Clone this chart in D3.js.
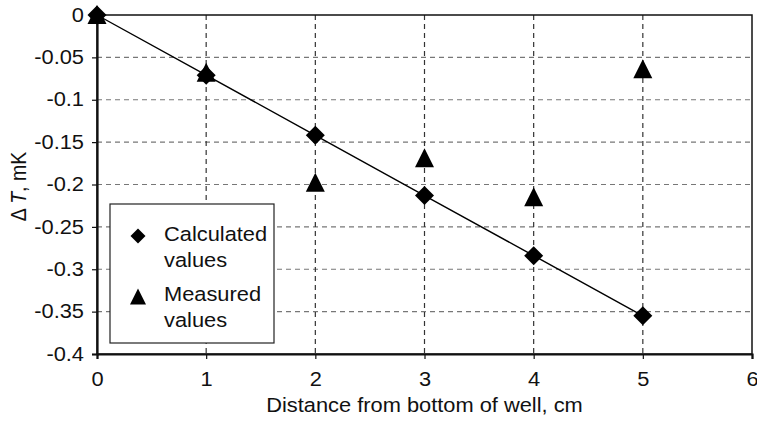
<html>
<head>
  <script src="https://d3js.org/d3.v7.min.js"></script>
  <style>
    body { margin: 0; background: #fff; }
    text { font-family: "Liberation Sans", Arial, sans-serif; }
  </style>
</head>
<body>
  <div id="chart"></div>
  <script>
    // values
    var distance = [0, 1, 2, 3, 4, 5];
    var calculated = [0, -0.071, -0.142, -0.213, -0.284, -0.355];
    var measured = [0, -0.068, -0.198, -0.169, -0.215, -0.064];
    var xTicks = [0, 1, 2, 3, 4, 5, 6];
    var yTicks = [0, -0.05, -0.1, -0.15, -0.2, -0.25, -0.3, -0.35, -0.4];

    var W = 757, H = 423;
    var margin = {top: 15, right: 5, bottom: 69, left: 97};
    var width = W - margin.left - margin.right;
    var height = H - margin.top - margin.bottom;
    var FS = '19.5px', SX = 1.12;

    var x = d3.scaleLinear().domain([0, 6]).range([0, width]);
    var y = d3.scaleLinear().domain([-0.4, 0]).range([height, 0]);

    // the reference text looks a bit wide, so stretch it sideways
    function stretch(sel) {
      sel.each(function() {
        var t = d3.select(this);
        var tx = +t.attr('x') || 0, ty = +t.attr('y') || 0;
        t.attr('x', 0).attr('y', 0)
         .attr('transform', 'translate(' + tx + ',' + ty + ') scale(' + SX + ',1)');
      });
    }

    var svg = d3.select('#chart').append('svg')
      .attr('width', W).attr('height', H)
      .append('g')
      .attr('transform', 'translate(' + margin.left + ',' + margin.top + ')');

    // dashed grid
    svg.append('g').selectAll('line')
      .data(yTicks.filter(function(d) { return d !== 0 && d !== -0.4; }))
      .enter().append('line')
        .attr('x1', 0).attr('x2', width)
        .attr('y1', function(d) { return y(d); }).attr('y2', function(d) { return y(d); })
        .attr('stroke', '#777').attr('stroke-width', 1.2).attr('stroke-dasharray', '5,4');

    svg.append('g').selectAll('line')
      .data(xTicks.filter(function(d) { return d !== 0 && d !== 6; }))
      .enter().append('line')
        .attr('y1', 0).attr('y2', height)
        .attr('x1', function(d) { return x(d); }).attr('x2', function(d) { return x(d); })
        .attr('stroke', '#333').attr('stroke-width', 1.2).attr('stroke-dasharray', '5,4');

    // frame
    svg.append('rect')
      .attr('x', 0).attr('y', 0).attr('width', width).attr('height', height)
      .attr('fill', 'none').attr('stroke', '#111').attr('stroke-width', 1.5);

    // axes
    var xAxis = d3.axisBottom(x).tickValues(xTicks).tickSize(5).tickPadding(13)
      .tickFormat(d3.format('d'));
    var yAxis = d3.axisLeft(y).tickValues(yTicks).tickSize(5).tickPadding(8)
      .tickFormat(function(d) { return d === 0 ? '0' : '-' + String(Math.abs(d)); });

    var gx = svg.append('g').attr('transform', 'translate(0,' + height + ')').call(xAxis);
    var gy = svg.append('g').call(yAxis);
    [gx, gy].forEach(function(g) {
      g.select('.domain').attr('stroke', '#111').attr('stroke-width', 2.2);
      g.selectAll('.tick line').attr('stroke', '#111').attr('stroke-width', 1.2);
      g.selectAll('.tick text').attr('fill', '#111').style('font-size', FS)
        .style('font-family', '"Liberation Sans", Arial, sans-serif');
      stretch(g.selectAll('.tick text'));
    });

    // axis titles
    svg.append('text')
      .attr('x', width / 2).attr('y', height + 58)
      .attr('text-anchor', 'middle').style('font-size', FS).attr('fill', '#111')
      .text('Distance from bottom of well, cm')
      .call(stretch);

    var yl = svg.append('text')
      .attr('transform', 'translate(-71,' + (height / 2 + 2) + ') rotate(-90) scale(1,' + SX + ')')
      .attr('text-anchor', 'middle').style('font-size', FS).attr('fill', '#111');
    yl.append('tspan').text('\u0394 ');
    yl.append('tspan').style('font-style', 'italic').text('T');
    yl.append('tspan').text(', mK');

    // calculated line
    var line = d3.line()
      .x(function(d, i) { return x(distance[i]); })
      .y(function(d) { return y(d); });
    svg.append('path').datum(calculated)
      .attr('d', line).attr('fill', 'none').attr('stroke', '#000').attr('stroke-width', 1.4);

    var diamond = 'M0,-9.5L9.5,0L0,9.5L-9.5,0Z';
    var triangle = 'M0,-10.5L9.5,8.5L-9.5,8.5Z';

    svg.append('g').selectAll('path')
      .data(measured).enter().append('path')
        .attr('d', triangle)
        .attr('transform', function(d, i) { return 'translate(' + x(distance[i]) + ',' + (y(d) + 0.5) + ')'; })
        .attr('fill', '#000');

    svg.append('g').selectAll('path')
      .data(calculated).enter().append('path')
        .attr('d', diamond)
        .attr('transform', function(d, i) { return 'translate(' + x(distance[i]) + ',' + y(d) + ')'; })
        .attr('fill', '#000');

    // legend
    var lg = svg.append('g').attr('transform', 'translate(13,189)');
    lg.append('rect').attr('width', 164).attr('height', 139)
      .attr('fill', '#fff').attr('stroke', '#222').attr('stroke-width', 1.2);
    lg.append('path').attr('d', 'M0,-7.5L7.5,0L0,7.5L-7.5,0Z').attr('transform', 'translate(28,32)');
    lg.append('path').attr('d', 'M0,-8.5L8,7.5L-8,7.5Z').attr('transform', 'translate(28,93)');
    var labels = [['Calculated', 'values'], ['Measured', 'values']];
    labels.forEach(function(l, i) {
      lg.append('text').attr('x', 54).attr('y', 37 + i * 60)
        .style('font-size', FS).attr('fill', '#111').text(l[0]).call(stretch);
      lg.append('text').attr('x', 54).attr('y', 63 + i * 60)
        .style('font-size', FS).attr('fill', '#111').text(l[1]).call(stretch);
    });
  </script>
</body>
</html>
